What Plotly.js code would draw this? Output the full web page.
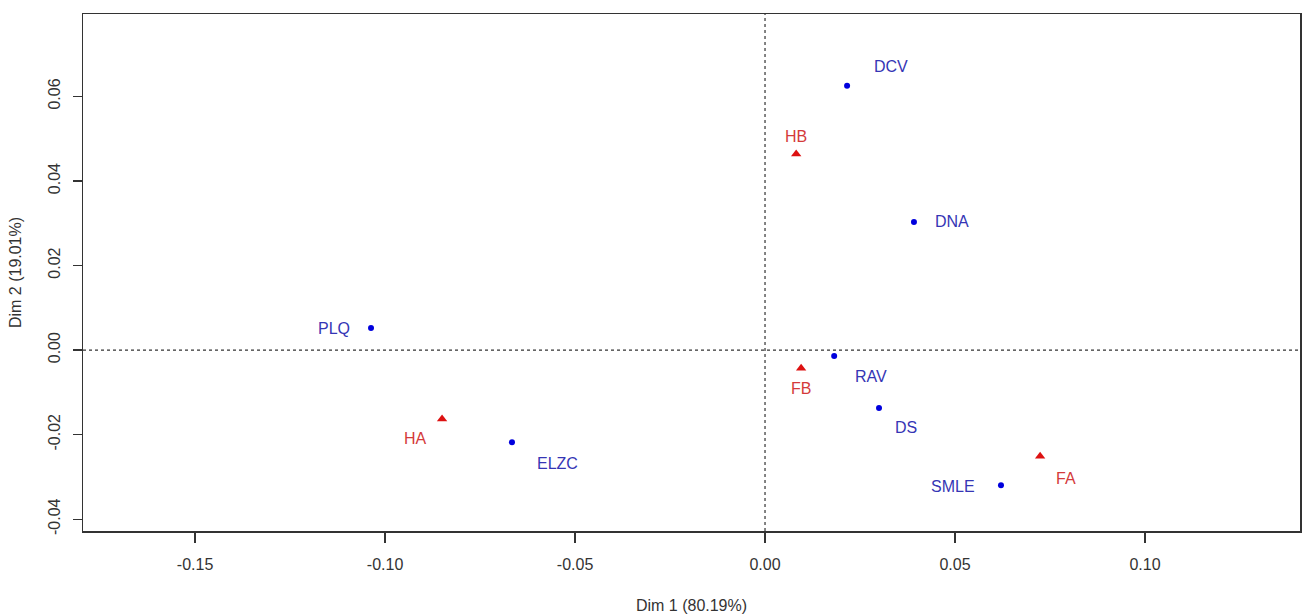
<!DOCTYPE html>
<html>
<head>
<meta charset="utf-8">
<script src="https://cdn.plot.ly/plotly-3.0.1.min.js"></script>
<style>html,body{margin:0;padding:0;background:#fff;}#chart{width:1304px;height:614px;}</style>
</head>
<body>
<div id="chart"></div>
<script>
// Column points (blue)
const colLabels = ["DCV", "DNA", "PLQ", "RAV", "DS", "ELZC", "SMLE"];
const colDim1 = [0.0216, 0.0392, -0.1037, 0.0182, 0.0300, -0.0666, 0.0621];
const colDim2 = [0.0625, 0.0303, 0.0052, -0.0014, -0.0137, -0.0218, -0.0320];
// Row points (red)
const rowLabels = ["HB", "FB", "HA", "FA"];
const rowDim1 = [0.0082, 0.0095, -0.0850, 0.0724];
const rowDim2 = [0.0464, -0.0043, -0.0163, -0.0251];
// Axis ticks
const xTicks = [-0.15, -0.10, -0.05, 0.00, 0.05, 0.10];
const xTickLabels = ["-0.15", "-0.10", "-0.05", "0.00", "0.05", "0.10"];
const yTicks = [-0.04, -0.02, 0.00, 0.02, 0.04, 0.06];
const yTickLabels = ["-0.04", "-0.02", "0.00", "0.02", "0.04", "0.06"];

// label pixel offsets (styling)
const colOffsets = [[44,-19],[38,0],[-37,0],[37,21],[27,20],[46,21],[-48,1]];
const rowOffsets = [[0,-17],[0,20],[-27,20],[26,22]];

const BLUE = "#0000dd", BLUE_T = "#3535b5", RED = "#dd1111", RED_T = "#d43a3a";
const FONT = "Liberation Sans, Arial, sans-serif";
const NARROW = "Liberation Sans Narrow, Arial Narrow, Liberation Sans, sans-serif";

const traces = [
  {x: colDim1, y: colDim2, mode: "markers", type: "scatter",
   marker: {color: BLUE, size: 6, symbol: "circle"}, hoverinfo: "skip"},
  {x: rowDim1, y: rowDim2, mode: "markers", type: "scatter",
   marker: {color: RED, size: 9, symbol: "triangle-up"}, hoverinfo: "skip"}
];

const annotations = [];
colLabels.forEach((t, i) => annotations.push({x: colDim1[i], y: colDim2[i], text: t, showarrow: false,
  xshift: colOffsets[i][0], yshift: -colOffsets[i][1], font: {family: FONT, size: 16, color: BLUE_T}}));
rowLabels.forEach((t, i) => annotations.push({x: rowDim1[i], y: rowDim2[i], text: t, showarrow: false,
  xshift: rowOffsets[i][0], yshift: -rowOffsets[i][1], font: {family: FONT, size: 16, color: RED_T}}));

const layout = {
  width: 1304, height: 614,
  margin: {l: 83, r: 4, t: 14, b: 83},
  paper_bgcolor: "#fff", plot_bgcolor: "#fff",
  showlegend: false,
  font: {family: FONT, size: 16, color: "#333"},
  xaxis: {
    range: [-0.1795, 0.1408], tickvals: xTicks, ticktext: xTickLabels,
    showgrid: false, zeroline: false, showline: true, mirror: true,
    linecolor: "#333", linewidth: 1.5, ticks: "outside", ticklen: 10, tickcolor: "#333", tickwidth: 1.2,
    ticklabelstandoff: 8,
    tickfont: {family: FONT, size: 16, color: "#333"},
    title: {text: "Dim 1 (80.19%)", font: {family: FONT, size: 16, color: "#333"}, standoff: 32}
  },
  yaxis: {
    range: [-0.0428, 0.0795], tickvals: yTicks, ticktext: yTickLabels,
    showgrid: false, zeroline: false, showline: true, mirror: true,
    linecolor: "#333", linewidth: 1.5, ticks: "outside", ticklen: 9, tickcolor: "#333", tickwidth: 1.2,
    ticklabelstandoff: 6,
    tickangle: -90, tickfont: {family: NARROW, size: 16, color: "#333"},
    title: {text: "Dim 2 (19.01%)", font: {family: FONT, size: 16, color: "#333"}, standoff: 20}
  },
  shapes: [
    {type: "line", xref: "x", yref: "paper", x0: 0, x1: 0, y0: 0, y1: 1,
     line: {color: "#333", width: 1.2, dash: "3px,3px"}},
    {type: "line", xref: "paper", yref: "y", x0: 0, x1: 1, y0: 0, y1: 0,
     line: {color: "#333", width: 1.2, dash: "3px,3px"}}
  ],
  annotations: annotations
};

Plotly.newPlot("chart", traces, layout, {staticPlot: true, displayModeBar: false});
</script>
</body>
</html>
